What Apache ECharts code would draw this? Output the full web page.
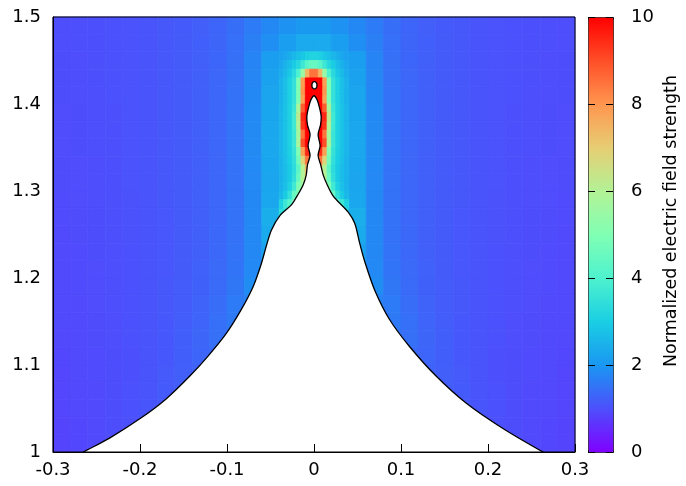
<!DOCTYPE html>
<html>
<head>
<meta charset="utf-8">
<title>Normalized electric field strength</title>
<script src="https://cdn.jsdelivr.net/npm/echarts@6/dist/echarts.min.js"></script>
<style>
  html, body { margin: 0; padding: 0; background: #fff; }
  #chart { width: 686px; height: 486px; }
</style>
</head>
<body>
<div id="chart"></div>
<script>
const _ = null

// field on a 0.02 grid: rows from y 1.48-1.50 down to 1.00-1.02, columns from x = -0.30
const fieldRows = [
  [0.99, 1.00, 1.01, 1.03, 1.05, 1.08, 1.12, 1.16, 1.22, 1.31, 1.43, 1.62, 1.80, 1.95, 2.05, 2.05, 1.95, 1.80, 1.62, 1.43, 1.31, 1.22, 1.16, 1.12, 1.08, 1.05, 1.03, 1.01, 1.00, 0.99],
  [0.99, 1.00, 1.01, 1.03, 1.05, 1.08, 1.12, 1.17, 1.23, 1.32, 1.45, 1.68, 1.90, 2.15, 2.35, 2.35, 2.15, 1.90, 1.68, 1.45, 1.32, 1.23, 1.17, 1.12, 1.08, 1.05, 1.03, 1.01, 1.00, 0.99],
  [0.98, 0.99, 1.01, 1.03, 1.05, 1.08, 1.12, 1.17, 1.24, 1.33, 1.47, 1.74, 2.15, _, _, _, _, 2.15, 1.74, 1.47, 1.33, 1.24, 1.17, 1.12, 1.08, 1.05, 1.03, 1.01, 0.99, 0.98],
  [0.98, 0.99, 1.01, 1.03, 1.05, 1.08, 1.12, 1.17, 1.24, 1.34, 1.48, 1.78, 2.22, _, _, _, _, 2.22, 1.78, 1.48, 1.34, 1.24, 1.17, 1.12, 1.08, 1.05, 1.03, 1.01, 0.99, 0.98],
  [0.98, 0.99, 1.00, 1.03, 1.05, 1.08, 1.12, 1.17, 1.24, 1.34, 1.49, 1.80, 2.26, _, _, _, _, 2.26, 1.80, 1.49, 1.34, 1.24, 1.17, 1.12, 1.08, 1.05, 1.03, 1.00, 0.99, 0.98],
  [0.97, 0.98, 1.00, 1.02, 1.05, 1.08, 1.12, 1.17, 1.24, 1.34, 1.50, 1.82, 2.28, _, _, _, _, 2.28, 1.82, 1.50, 1.34, 1.24, 1.17, 1.12, 1.08, 1.05, 1.02, 1.00, 0.98, 0.97],
  [0.97, 0.98, 1.00, 1.02, 1.05, 1.08, 1.12, 1.17, 1.24, 1.34, 1.50, 1.83, 2.30, _, _, _, _, 2.30, 1.83, 1.50, 1.34, 1.24, 1.17, 1.12, 1.08, 1.05, 1.02, 1.00, 0.98, 0.97],
  [0.97, 0.98, 1.00, 1.02, 1.05, 1.08, 1.12, 1.17, 1.24, 1.34, 1.50, 1.83, 2.30, _, _, _, _, 2.30, 1.83, 1.50, 1.34, 1.24, 1.17, 1.12, 1.08, 1.05, 1.02, 1.00, 0.98, 0.97],
  [0.96, 0.97, 0.99, 1.02, 1.05, 1.08, 1.12, 1.17, 1.24, 1.34, 1.50, 1.82, 2.28, _, _, _, _, 2.28, 1.82, 1.50, 1.34, 1.24, 1.17, 1.12, 1.08, 1.05, 1.02, 0.99, 0.97, 0.96],
  [0.96, 0.97, 0.99, 1.02, 1.05, 1.08, 1.12, 1.17, 1.24, 1.34, 1.50, 1.81, 2.27, _, _, _, _, 2.27, 1.81, 1.50, 1.34, 1.24, 1.17, 1.12, 1.08, 1.05, 1.02, 0.99, 0.97, 0.96],
  [0.95, 0.97, 0.99, 1.01, 1.04, 1.08, 1.12, 1.17, 1.24, 1.34, 1.49, 1.80, 2.30, _, _, _, _, 2.30, 1.80, 1.49, 1.34, 1.24, 1.17, 1.12, 1.08, 1.04, 1.01, 0.99, 0.97, 0.95],
  [0.95, 0.96, 0.98, 1.01, 1.04, 1.07, 1.11, 1.17, 1.24, 1.34, 1.49, 1.80, 2.45, 3.40, _, _, 3.40, 2.45, 1.80, 1.49, 1.34, 1.24, 1.17, 1.11, 1.07, 1.04, 1.01, 0.98, 0.96, 0.95],
  [0.94, 0.96, 0.98, 1.01, 1.04, 1.07, 1.11, 1.17, 1.24, 1.35, 1.50, 1.80, 2.38, _, _, _, _, 2.38, 1.80, 1.50, 1.35, 1.24, 1.17, 1.11, 1.07, 1.04, 1.01, 0.98, 0.96, 0.94],
  [0.94, 0.95, 0.98, 1.00, 1.03, 1.07, 1.11, 1.17, 1.24, 1.35, 1.51, 1.80, 2.22, _, _, _, _, 2.22, 1.80, 1.51, 1.35, 1.24, 1.17, 1.11, 1.07, 1.03, 1.00, 0.98, 0.95, 0.94],
  [0.93, 0.95, 0.97, 1.00, 1.03, 1.07, 1.11, 1.17, 1.25, 1.36, 1.52, 1.82, 2.05, _, _, _, _, 2.05, 1.82, 1.52, 1.36, 1.25, 1.17, 1.11, 1.07, 1.03, 1.00, 0.97, 0.95, 0.93],
  [0.93, 0.95, 0.97, 1.00, 1.03, 1.07, 1.12, 1.18, 1.26, 1.38, 1.56, 1.88, _, _, _, _, _, _, 1.88, 1.56, 1.38, 1.26, 1.18, 1.12, 1.07, 1.03, 1.00, 0.97, 0.95, 0.93],
  [0.92, 0.94, 0.97, 1.00, 1.03, 1.07, 1.12, 1.19, 1.28, 1.42, 1.62, 1.72, _, _, _, _, _, _, 1.72, 1.62, 1.42, 1.28, 1.19, 1.12, 1.07, 1.03, 1.00, 0.97, 0.94, 0.92],
  [0.92, 0.94, 0.96, 0.99, 1.03, 1.07, 1.13, 1.20, 1.30, 1.45, 1.60, _, _, _, _, _, _, _, _, 1.60, 1.45, 1.30, 1.20, 1.13, 1.07, 1.03, 0.99, 0.96, 0.94, 0.92],
  [0.91, 0.93, 0.96, 0.99, 1.03, 1.07, 1.13, 1.21, 1.32, 1.47, 1.52, _, _, _, _, _, _, _, _, 1.52, 1.47, 1.32, 1.21, 1.13, 1.07, 1.03, 0.99, 0.96, 0.93, 0.91],
  [0.90, 0.92, 0.95, 0.98, 1.02, 1.07, 1.13, 1.21, 1.31, 1.37, _, _, _, _, _, _, _, _, _, _, 1.37, 1.31, 1.21, 1.13, 1.07, 1.02, 0.98, 0.95, 0.92, 0.90],
  [0.89, 0.92, 0.95, 0.98, 1.02, 1.07, 1.14, 1.22, 1.27, _, _, _, _, _, _, _, _, _, _, _, _, 1.27, 1.22, 1.14, 1.07, 1.02, 0.98, 0.95, 0.92, 0.89],
  [0.88, 0.91, 0.94, 0.98, 1.03, 1.08, 1.15, 1.20, _, _, _, _, _, _, _, _, _, _, _, _, _, _, 1.20, 1.15, 1.08, 1.03, 0.98, 0.94, 0.91, 0.88],
  [0.88, 0.91, 0.94, 0.98, 1.03, 1.09, 1.12, _, _, _, _, _, _, _, _, _, _, _, _, _, _, _, _, 1.12, 1.09, 1.03, 0.98, 0.94, 0.91, 0.88],
  [0.87, 0.90, 0.94, 0.98, 1.02, 1.05, _, _, _, _, _, _, _, _, _, _, _, _, _, _, _, _, _, _, 1.05, 1.02, 0.98, 0.94, 0.90, 0.87],
  [0.86, 0.90, 0.94, 0.97, _, _, _, _, _, _, _, _, _, _, _, _, _, _, _, _, _, _, _, _, _, _, 0.97, 0.94, 0.90, 0.86]
]

// finer cells round the tip: 0.005 wide, 0.01 high, columns from x = -0.04,
// rows from y 1.45-1.46 down to 1.28-1.29
const tipRows = [
  [2.20, 2.30, 2.45, 2.60, 2.75, 2.90, 3.05, 3.15, 3.15, 3.05, 2.90, 2.75, 2.60, 2.45, 2.30, 2.20],
  [2.30, 2.50, 2.70, 2.95, 3.25, 3.70, 4.20, 4.50, 4.50, 4.20, 3.70, 3.25, 2.95, 2.70, 2.50, 2.30],
  [2.40, 2.65, 2.90, 3.30, 4.00, 5.50, 7.50, 8.50, 8.50, 7.50, 5.50, 4.00, 3.30, 2.90, 2.65, 2.40],
  [2.50, 2.75, 3.05, 3.50, 5.00, 7.90, 10, 10, 10, 10, 7.90, 5.00, 3.50, 3.05, 2.75, 2.50],
  [2.50, 2.75, 3.05, 3.50, 5.00, 8.00, 10, 10, 10, 10, 8.00, 5.00, 3.50, 3.05, 2.75, 2.50],
  [2.50, 2.75, 3.05, 3.50, 5.00, 7.80, 10, 10, 10, 10, 7.80, 5.00, 3.50, 3.05, 2.75, 2.50],
  [2.55, 2.80, 3.10, 3.65, 5.80, 8.80, 10, 10, 10, 10, 8.80, 5.80, 3.65, 3.10, 2.80, 2.55],
  [2.55, 2.80, 3.10, 3.75, 6.20, 9.50, 10, 10, 10, 10, 9.50, 6.20, 3.75, 3.10, 2.80, 2.55],
  [2.55, 2.80, 3.10, 3.75, 6.00, 9.30, 10, 10, 10, 10, 9.30, 6.00, 3.75, 3.10, 2.80, 2.55],
  [2.55, 2.80, 3.10, 3.65, 5.70, 8.50, 10, 10, 10, 10, 8.50, 5.70, 3.65, 3.10, 2.80, 2.55],
  [2.55, 2.80, 3.10, 3.65, 5.80, 9.00, 10, 10, 10, 10, 9.00, 5.80, 3.65, 3.10, 2.80, 2.55],
  [2.55, 2.80, 3.05, 3.55, 5.00, 7.80, 9.50, 10, 10, 9.50, 7.80, 5.00, 3.55, 3.05, 2.80, 2.55],
  [2.50, 2.75, 3.00, 3.45, 4.70, 6.80, 8.50, 10, 10, 8.50, 6.80, 4.70, 3.45, 3.00, 2.75, 2.50],
  [2.50, 2.70, 2.95, 3.35, 4.30, 6.00, 7.50, 9.00, 9.00, 7.50, 6.00, 4.30, 3.35, 2.95, 2.70, 2.50],
  [2.50, 2.70, 2.95, 3.45, 4.50, 6.00, 7.00, _, _, 7.00, 6.00, 4.50, 3.45, 2.95, 2.70, 2.50],
  [2.50, 2.75, 3.10, 3.75, 5.00, 5.50, _, _, _, _, 5.50, 5.00, 3.75, 3.10, 2.75, 2.50],
  [2.60, 2.95, 3.50, 4.50, 4.80, _, _, _, _, _, _, 4.80, 4.50, 3.50, 2.95, 2.60],
  [3.10, 3.70, 4.20, _, _, _, _, _, _, _, _, _, _, 4.20, 3.70, 3.10]
]

// outline of the liquid, left foot (just below the frame) -> tip -> right foot
const outlineX = [-0.29, -0.265, -0.235, -0.199, -0.170, -0.143, -0.122, -0.101, -0.084, -0.070, -0.061,
  -0.055, -0.049, -0.039, -0.026, -0.019, -0.0125, -0.009, -0.0075, -0.0045, -0.0068,
  -0.0045, -0.0075, -0.0082, -0.006, -0.0035, 0.0,
  0.0035, 0.006, 0.0082, 0.0075, 0.0047, 0.007, 0.0047, 0.0077, 0.0107, 0.0153,
  0.0215, 0.0276, 0.0391, 0.0468, 0.0525, 0.0583, 0.0698, 0.087, 0.110, 0.1406,
  0.1751, 0.2172, 0.2632, 0.29]
const outlineY = [0.986, 1.000, 1.016, 1.039, 1.061, 1.087, 1.110, 1.136, 1.163, 1.190, 1.215,
  1.236, 1.255, 1.272, 1.284, 1.295, 1.307, 1.318, 1.330, 1.341, 1.352,
  1.365, 1.376, 1.386, 1.397, 1.405, 1.4095,
  1.405, 1.397, 1.386, 1.376, 1.365, 1.352, 1.341, 1.330, 1.318, 1.307,
  1.295, 1.288, 1.276, 1.263, 1.240, 1.219, 1.186, 1.152, 1.121, 1.087,
  1.056, 1.027, 1.000, 0.986]

// the small drop above the tip
const dropX = [0.0005, 0.0025, 0.0033, 0.0025, 0.0005, -0.0015, -0.0023, -0.0015]
const dropY = [1.4257, 1.4245, 1.4215, 1.4185, 1.4173, 1.4185, 1.4215, 1.4245]

const rainbow = ['#8000ff', '#4d4ffc', '#1a96f2', '#1acee3', '#4df2ce', '#80ffb4',
  '#b3f296', '#e6ce74', '#ff964f', '#ff4f28', '#ff0000']
const font = 'DejaVu Sans'

const toCells = (rows, x0, yTop, w, h) => {
  const cells = []
  rows.forEach((row, r) => {
    row.forEach((v, c) => {
      if (v !== null) cells.push([x0 + c * w, yTop - r * h, v])
    })
  })
  return cells
}

const cellRenderer = (w, h) => (params, api) => {
  const x = api.value(0)
  const y = api.value(1)
  const a = api.coord([x, y + h])
  const b = api.coord([x + w, y])
  const color = api.visual('color')
  return {
    type: 'rect',
    shape: { x: a[0], y: a[1], width: b[0] - a[0], height: b[1] - a[1] },
    style: { fill: color, stroke: color, lineWidth: 0.8 }
  }
}

const shapeRenderer = (xs, ys, smooth) => (params, api) => {
  const points = xs.map((x, i) => api.coord([x, ys[i]]))
  return {
    type: 'polygon',
    shape: { points: points, smooth: smooth },
    style: { fill: '#fff', stroke: '#000', lineWidth: 1.3 }
  }
}

const chart = echarts.init(document.getElementById('chart'))
const option = {
  animation: false,
  backgroundColor: '#fff',
  grid: [
    { left: 53, top: 17, width: 522, height: 435, show: true, borderColor: '#000', borderWidth: 1, backgroundColor: 'transparent', z: 10 },
    { left: 588, top: 17, width: 25, height: 435 }
  ],
  xAxis: [
    {
      gridIndex: 0, type: 'value', min: -0.3, max: 0.3, interval: 0.1, z: 5,
      axisLine: { onZero: false, lineStyle: { color: '#000', width: 1 } },
      axisTick: { inside: true, length: 8, lineStyle: { color: '#000' } },
      axisLabel: { color: '#000', fontSize: 18, fontFamily: font, margin: 9 },
      splitLine: { show: false }
    },
    { gridIndex: 1, type: 'value', min: 0, max: 1, show: false }
  ],
  yAxis: [
    {
      gridIndex: 0, type: 'value', min: 1, max: 1.5, interval: 0.1, z: 5,
      axisLine: { onZero: false, lineStyle: { color: '#000', width: 1 } },
      axisTick: { show: false },
      axisLabel: { color: '#000', fontSize: 18, fontFamily: font, margin: 12 },
      splitLine: { show: false }
    },
    {
      gridIndex: 1, type: 'value', min: 0, max: 10, interval: 2, position: 'right', z: 10,
      axisLine: { show: false, onZero: false },
      axisTick: { inside: true, length: 7, lineStyle: { color: '#000' } },
      axisLabel: { color: '#000', fontSize: 18, fontFamily: font, margin: 18 },
      splitLine: { show: false }
    },
    {
      gridIndex: 1, type: 'value', min: 0, max: 10, interval: 2, position: 'left', z: 10,
      axisLine: { show: false, onZero: false },
      axisTick: { inside: true, length: 7, lineStyle: { color: '#000' } },
      axisLabel: { show: false },
      splitLine: { show: false }
    }
  ],
  visualMap: {
    type: 'continuous',
    min: 0,
    max: 10,
    seriesIndex: [0, 1],
    dimension: 2,
    calculable: false,
    show: true,
    left: 588,
    top: 17,
    itemWidth: 25,
    itemHeight: 435,
    padding: 0,
    borderColor: '#000',
    borderWidth: 1,
    inRange: { color: rainbow }
  },
  graphic: [
    {
      type: 'text',
      x: 671,
      y: 221,
      rotation: Math.PI / 2,
      style: {
        text: 'Normalized electric field strength',
        fill: '#000',
        fontSize: 17.5,
        fontFamily: font,
        align: 'center',
        verticalAlign: 'middle'
      }
    }
  ],
  series: [
    {
      type: 'custom', xAxisIndex: 0, yAxisIndex: 0, z: 1, silent: true,
      encode: { x: 0, y: 1 },
      data: toCells(fieldRows, -0.3, 1.48, 0.02, 0.02),
      renderItem: cellRenderer(0.02, 0.02)
    },
    {
      type: 'custom', xAxisIndex: 0, yAxisIndex: 0, z: 1, silent: true,
      encode: { x: 0, y: 1 },
      data: toCells(tipRows, -0.04, 1.45, 0.005, 0.01),
      renderItem: cellRenderer(0.005, 0.01)
    },
    {
      type: 'custom', xAxisIndex: 0, yAxisIndex: 0, z: 2, silent: true, clip: true,
      encode: { x: 0, y: 1 },
      data: [[0, 1.2]],
      renderItem: shapeRenderer(outlineX, outlineY, 0.3)
    },
    {
      type: 'custom', xAxisIndex: 0, yAxisIndex: 0, z: 2, silent: true,
      encode: { x: 0, y: 1 },
      data: [[0, 1.42]],
      renderItem: shapeRenderer(dropX, dropY, 0.8)
    }
  ]
}
chart.setOption(option)
window.addEventListener('resize', function () {
  chart.resize()
})
</script>
</body>
</html>
